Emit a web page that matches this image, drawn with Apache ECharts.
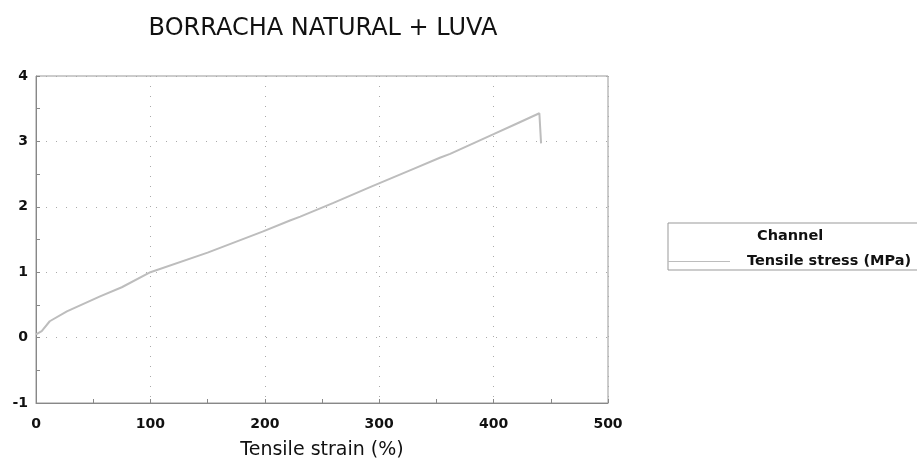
<!DOCTYPE html>
<html><head><meta charset="utf-8">
<script src="https://cdn.jsdelivr.net/npm/echarts@6/dist/echarts.min.js"></script>
<style>html,body{margin:0;padding:0;background:#fff}#c{width:917px;height:472px}</style>
</head><body><div id="c"></div>
<script>
const titleText = 'BORRACHA NATURAL + LUVA';
const xAxisName = 'Tensile strain (%)';
const seriesName = 'Tensile stress (MPa)';
const legendTitle = 'Channel';
const strain = [0, 5, 12, 27, 56, 75, 100, 150, 198, 222, 231, 260, 292, 330, 353, 362, 400, 420, 440, 441, 441.5];
const stress = [0.05, 0.10, 0.25, 0.40, 0.63, 0.77, 1.00, 1.30, 1.62, 1.79, 1.85, 2.06, 2.30, 2.58, 2.75, 2.81, 3.11, 3.27, 3.43, 3.46, 2.97];
const data = strain.map((x, i) => [x, stress[i]]);

const chart = echarts.init(document.getElementById('c'));
chart.setOption({
  animation: false,
  title: {text: titleText, left: 318, textAlign: 'center', top: 12,
    textStyle: {fontFamily: 'DejaVu Sans', fontSize: 24, fontWeight: 'normal', color: '#111'}},
  grid: {left: 36, right: 309, top: 76, bottom: 69, show: true, borderColor: '#999', borderWidth: 1},
  legend: {
    left: 668, top: 254,
    padding: 0,
    orient: 'vertical', align: 'left',
    itemWidth: 62, itemHeight: 8,
    textStyle: {fontFamily: 'DejaVu Sans', fontSize: 14.5, fontWeight: 'bold', color: '#111', padding: [0, 0, 0, 12]},
    data: [{name: seriesName, icon: 'path://M0,0H62V1H0Z'}]
  },
  graphic: [
    {type: 'rect', shape: {x: 668, y: 223, width: 260, height: 47},
      style: {fill: 'none', stroke: '#999', lineWidth: 1}, silent: true, z: 1},
    {type: 'text', left: 757, top: 229,
      style: {text: legendTitle, fontFamily: 'DejaVu Sans', fontSize: 14.5, fontWeight: 'bold', fill: '#111'}}
  ],
  xAxis: {
    type: 'value', min: 0, max: 500, interval: 100,
    name: xAxisName, nameLocation: 'middle', nameGap: 38,
    nameTextStyle: {fontFamily: 'DejaVu Sans', fontSize: 19, color: '#111'},
    axisLine: {show: true, onZero: false, lineStyle: {color: '#888'}},
    axisTick: {show: true, inside: true, length: 4, lineStyle: {color: '#888'}},
    minorTick: {show: true, splitNumber: 2, length: 4, lineStyle: {color: '#888'}},
    axisLabel: {fontFamily: 'DejaVu Sans', fontSize: 14, fontWeight: 'bold', color: '#111', margin: 14},
    splitLine: {show: true, lineStyle: {color: '#aaa', type: [1, 9], width: 1}}
  },
  yAxis: {
    type: 'value', min: -1, max: 4, interval: 1,
    axisLine: {show: true, onZero: false, lineStyle: {color: '#888'}},
    axisTick: {show: true, inside: true, length: 4, lineStyle: {color: '#888'}},
    minorTick: {show: true, splitNumber: 2, length: 4, lineStyle: {color: '#888'}},
    axisLabel: {fontFamily: 'DejaVu Sans', fontSize: 14, fontWeight: 'bold', color: '#111', margin: 8},
    splitLine: {show: true, lineStyle: {color: '#aaa', type: [1, 9], width: 1}}
  },
  series: [{
    name: seriesName, type: 'line', data: data, showSymbol: false,
    lineStyle: {color: '#bdbdbd', width: 2}, itemStyle: {color: '#bdbdbd'}
  }]
});
</script></body></html>
